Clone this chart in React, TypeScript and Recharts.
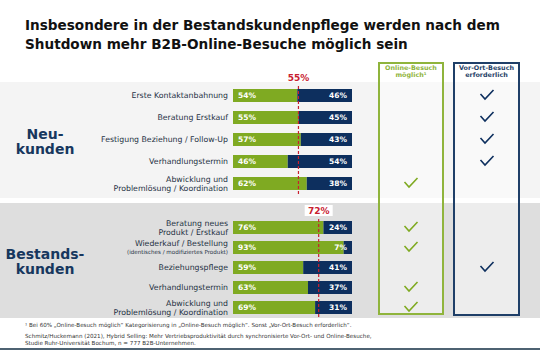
import React from 'react';
import { BarChart, Bar, XAxis, YAxis, ReferenceLine, LabelList } from 'recharts';

// Neukunden (new customers)
const newCategories = [
    'Erste Kontaktanbahnung',
    'Beratung Erstkauf',
    'Festigung Beziehung / Follow-Up',
    'Verhandlungstermin',
    'Abwicklung und|Problemlösung / Koordination',
];
const newOnline = [54, 55, 57, 46, 62];
const newOnsite = [46, 45, 43, 54, 38];
const newOnlineCheck = [false, false, false, false, true];
const newOnsiteCheck = [true, true, true, true, false];
const newMean = 55;

// Bestandskunden (existing customers)
const oldCategories = [
    'Beratung neues|Produkt / Erstkauf',
    'Wiederkauf / Bestellung|(identisches / modifiziertes Produkt)',
    'Beziehungspflege',
    'Verhandlungstermin',
    'Abwicklung und|Problemlösung / Koordination',
];
const oldOnline = [76, 93, 59, 63, 69];
const oldOnsite = [24, 7, 41, 37, 31];
const oldOnlineCheck = [true, true, false, true, true];
const oldOnsiteCheck = [false, false, true, false, false];
const oldMean = 72;

const GREEN = '#7faa22';
const NAVY = '#0d2f5e';
const RED = '#c8202f';
const TEXT = '#1f3244';
const FONT = '"DejaVu Sans", Verdana, sans-serif';
const ONLINE_X = 411;
const ONSITE_X = 487;

const Check = ({ x, y, color }: { x: number; y: number; color: string }) => (
    <path
        d={`M${x - 6.5},${y - 1} L${x - 2},${y + 4} L${x + 6.5},${y - 5}`}
        fill="none"
        stroke={color}
        strokeWidth={1.6}
    />
);

const makeTick = (online: boolean[], onsite: boolean[]) => (props: any) => {
    const { x, y, payload, index } = props;
    const lines = String(payload.value).split('|');
    return (
        <g>
            {lines.length === 1 ? (
                <text x={x} y={y} dy={3} textAnchor="end" fontSize={7.8} fill={TEXT} fontFamily={FONT}>
                    {lines[0]}
                </text>
            ) : (
                <>
                    <text x={x} y={y - 4.5} dy={3} textAnchor="end" fontSize={7.8} fill={TEXT} fontFamily={FONT}>
                        {lines[0]}
                    </text>
                    <text
                        x={x}
                        y={y + 4.5}
                        dy={lines[1].startsWith('(') ? 2 : 3}
                        textAnchor="end"
                        fontSize={lines[1].startsWith('(') ? 5.6 : 7.8}
                        fill={TEXT}
                        fontFamily={FONT}
                    >
                        {lines[1]}
                    </text>
                </>
            )}
            {online[index] && <Check x={ONLINE_X} y={y} color={GREEN} />}
            {onsite[index] && <Check x={ONSITE_X} y={y} color={NAVY} />}
        </g>
    );
};

const MeanLabel = ({ viewBox, text, bg }: any) => {
    const cx = viewBox.x;
    const top = viewBox.y;
    return (
        <g>
            {bg && <rect x={cx - 14} y={top - 12} width={28} height={11} fill="#fff" />}
            <text x={cx} y={top - 3} textAnchor="middle" fontSize={9} fontWeight="bold" fill={RED} fontFamily={FONT}>
                {text}
            </text>
        </g>
    );
};

const Group = ({ categories, online, onsite, onlineCheck, onsiteCheck, mean, height, top, bottom, bg }: any) => {
    const data = categories.map((name: string, i: number) => ({ name, online: online[i], onsite: onsite[i] }));
    return (
        <BarChart
            width={540}
            height={height}
            data={data}
            layout="vertical"
            margin={{ top, right: 188, bottom, left: 0 }}
        >
            <XAxis type="number" domain={[0, 100]} hide />
            <YAxis
                type="category"
                dataKey="name"
                width={233}
                axisLine={false}
                tickLine={false}
                tickSize={0}
                tickMargin={5}
                interval={0}
                tick={makeTick(onlineCheck, onsiteCheck)}
            />
            <Bar dataKey="online" stackId="a" fill={GREEN} barSize={13} isAnimationActive={false}>
                <LabelList
                    dataKey="online"
                    position="insideLeft"
                    formatter={(v: any) => `${v}%`}
                    fill="#fff"
                    fontSize={7.5}
                    fontWeight="bold"
                    fontFamily={FONT}
                />
            </Bar>
            <Bar dataKey="onsite" stackId="a" fill={NAVY} barSize={13} isAnimationActive={false}>
                <LabelList
                    dataKey="onsite"
                    position="insideRight"
                    formatter={(v: any) => `${v}%`}
                    fill="#fff"
                    fontSize={7.5}
                    fontWeight="bold"
                    fontFamily={FONT}
                />
            </Bar>
            <ReferenceLine
                x={mean}
                stroke={RED}
                strokeDasharray="3 2"
                strokeWidth={1.2}
                ifOverflow="visible"
                label={<MeanLabel text={`${mean}%`} bg={bg} />}
            />
        </BarChart>
    );
};

const abs = (left: number, top: number, extra: React.CSSProperties = {}): React.CSSProperties => ({
    position: 'absolute',
    left,
    top,
    ...extra,
});

export default function App() {
    return (
        <div style={abs(0, 0, { width: 540, height: 350, background: '#fff', fontFamily: FONT, overflow: 'hidden' })}>
            {/* background bands */}
            <div style={abs(0, 82, { width: 540, height: 116, background: '#f4f4f4' })} />
            <div style={abs(0, 203, { width: 540, height: 115, background: '#dedede' })} />

            {/* header boxes */}
            <div style={abs(378, 62, { width: 62, height: 249, border: `2px solid #8fb43c`, background: 'rgba(255,255,255,0.45)' })} />
            <div style={abs(453, 62, { width: 63, height: 250, border: `2px solid #1f3f68`, background: 'rgba(255,255,255,0.45)' })} />
            <div style={abs(380, 65, { width: 62, textAlign: 'center', fontSize: 6.4, fontWeight: 'bold', color: '#8fb43c', lineHeight: '7px' })}>
                Online-Besuch<br />möglich¹
            </div>
            <div style={abs(455, 65, { width: 63, textAlign: 'center', fontSize: 6.4, fontWeight: 'bold', color: '#1f3f68', lineHeight: '7px' })}>
                Vor-Ort-Besuch<br />erforderlich
            </div>

            {/* title */}
            <div style={abs(25, 16, { fontSize: 13.6, fontWeight: 'bold', color: '#111', lineHeight: '19px', whiteSpace: 'nowrap' })}>
                Insbesondere in der Bestandskundenpflege werden nach dem<br />
                Shutdown mehr B2B-Online-Besuche möglich sein
            </div>

            {/* group labels */}
            <div style={abs(0, 127, { width: 90, textAlign: 'center', fontSize: 14, fontWeight: 'bold', color: '#17375e', lineHeight: '15px' })}>
                Neu-<br />kunden
            </div>
            <div style={abs(0, 247, { width: 90, textAlign: 'center', fontSize: 14, fontWeight: 'bold', color: '#17375e', lineHeight: '15px' })}>
                Bestands-<br />kunden
            </div>

            <div style={abs(0, 0)}>
                <Group
                    categories={newCategories}
                    online={newOnline}
                    onsite={newOnsite}
                    onlineCheck={newOnlineCheck}
                    onsiteCheck={newOnsiteCheck}
                    mean={newMean}
                    height={200}
                    top={84}
                    bottom={6}
                    bg={false}
                />
            </div>
            <div style={abs(0, 200)}>
                <Group
                    categories={oldCategories}
                    online={oldOnline}
                    onsite={oldOnsite}
                    onlineCheck={oldOnlineCheck}
                    onsiteCheck={oldOnsiteCheck}
                    mean={oldMean}
                    height={120}
                    top={17}
                    bottom={3}
                    bg={true}
                />
            </div>

            {/* footnotes */}
            <div style={abs(25, 322, { fontSize: 5.6, color: '#333', lineHeight: '7px', whiteSpace: 'nowrap' })}>
                ¹ Bei 60% „Online-Besuch möglich“ Kategorisierung in „Online-Besuch möglich“. Sonst „Vor-Ort-Besuch erforderlich“.
            </div>
            <div style={abs(25, 333, { fontSize: 5.6, color: '#333', lineHeight: '7px', whiteSpace: 'nowrap' })}>
                Schmitz/Huckemann (2021), Hybrid Selling: Mehr Vertriebsproduktivität durch synchronisierte Vor-Ort- und Online-Besuche,<br />
                Studie Ruhr-Universität Bochum, n = 777 B2B-Unternehmen.
            </div>
            <div style={abs(0, 348, { width: 540, height: 2, background: '#4d6272' })} />
        </div>
    );
}
